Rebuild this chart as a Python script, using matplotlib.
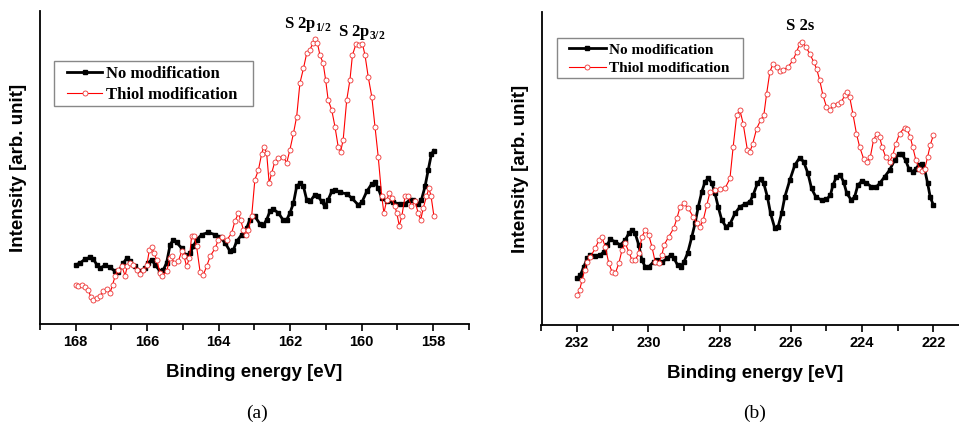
import numpy as np
import matplotlib
matplotlib.use("Agg")
import matplotlib.pyplot as plt
from matplotlib.patches import Rectangle

# S 2p region (left panel)
e_2p_no = [168.00, 167.88, 167.74, 167.60, 167.51, 167.41, 167.32, 167.18, 167.04, 166.90,
           166.81, 166.67, 166.57, 166.48, 166.34, 166.20, 166.06, 165.97, 165.88, 165.78,
           165.64, 165.55, 165.46, 165.36, 165.27, 165.18, 165.04, 164.94, 164.90, 164.80,
           164.71, 164.62, 164.48, 164.29, 164.10, 163.96, 163.82, 163.68, 163.59, 163.50,
           163.36, 163.22, 163.13, 162.99, 162.85, 162.75, 162.66, 162.57, 162.47, 162.33,
           162.19, 162.10, 162.01, 161.91, 161.82, 161.73, 161.63, 161.54, 161.45, 161.31,
           161.22, 161.12, 161.03, 160.94, 160.84, 160.75, 160.61, 160.42, 160.28, 160.10,
           160.00, 159.86, 159.72, 159.63, 159.54, 159.44, 159.30, 159.12, 158.93, 158.79,
           158.65, 158.56, 158.42, 158.33, 158.23, 158.14, 158.05, 157.98]
i_2p_no = [1.80, 1.85, 1.97, 2.02, 1.97, 1.80, 1.70, 1.78, 1.72, 1.60,
           1.57, 1.85, 2.00, 1.90, 1.75, 1.60, 1.70, 1.85, 1.95, 1.80,
           1.60, 1.65, 1.85, 2.40, 2.55, 2.47, 2.30, 2.10, 2.05, 2.15,
           2.35, 2.55, 2.70, 2.77, 2.70, 2.63, 2.45, 2.20, 2.25, 2.50,
           2.70, 2.90, 3.15, 3.25, 3.03, 3.00, 3.15, 3.40, 3.47, 3.35,
           3.13, 3.15, 3.35, 3.65, 4.15, 4.25, 4.15, 3.75, 3.70, 3.90,
           3.85, 3.70, 3.55, 3.75, 4.00, 4.05, 3.97, 3.93, 3.80, 3.60,
           3.67, 4.00, 4.23, 4.27, 4.10, 3.80, 3.70, 3.67, 3.63, 3.63,
           3.75, 3.73, 3.63, 3.75, 4.15, 4.65, 5.13, 5.23]

e_2p_thiol = [168.00, 167.93, 167.83, 167.74, 167.65, 167.58, 167.51, 167.41, 167.32, 167.23,
              167.13, 167.04, 166.97, 166.90, 166.81, 166.71, 166.62, 166.56, 166.48, 166.39,
              166.29, 166.20, 166.11, 166.01, 165.94, 165.88, 165.81, 165.74, 165.64, 165.58,
              165.46, 165.36, 165.32, 165.25, 165.13, 165.04, 164.97, 164.90, 164.82, 164.76,
              164.69, 164.62, 164.52, 164.43, 164.34, 164.24, 164.10, 164.01, 163.92, 163.78,
              163.64, 163.55, 163.45, 163.39, 163.31, 163.24, 163.17, 163.08, 162.99, 162.89,
              162.80, 162.74, 162.66, 162.59, 162.52, 162.43, 162.33, 162.19, 162.10, 162.01,
              161.91, 161.82, 161.73, 161.63, 161.54, 161.45, 161.37, 161.30, 161.24, 161.17,
              161.08, 161.01, 160.94, 160.84, 160.75, 160.66, 160.59, 160.52, 160.42, 160.33,
              160.26, 160.16, 160.07, 159.98, 159.91, 159.82, 159.72, 159.63, 159.54, 159.44,
              159.38, 159.30, 159.23, 159.16, 159.07, 159.02, 158.95, 158.88, 158.79, 158.70,
              158.61, 158.51, 158.42, 158.35, 158.28, 158.19, 158.12, 158.06, 157.98]
i_2p_thiol = [1.20, 1.17, 1.20, 1.13, 1.05, 0.83, 0.75, 0.80, 0.87, 1.00,
              1.07, 0.95, 1.20, 1.45, 1.65, 1.75, 1.47, 1.75, 1.85, 1.80,
              1.63, 1.53, 1.63, 1.80, 2.25, 2.33, 2.15, 1.95, 1.55, 1.45,
              1.60, 2.00, 2.05, 1.85, 1.90, 2.20, 2.05, 1.75, 2.00, 2.65,
              2.67, 2.35, 1.57, 1.50, 1.75, 2.05, 2.30, 2.55, 2.63, 2.53,
              2.75, 3.10, 3.35, 3.15, 2.85, 2.70, 2.85, 3.25, 4.35, 4.65,
              5.13, 5.35, 5.15, 4.25, 4.55, 4.90, 5.00, 5.05, 4.85, 5.25,
              5.75, 6.25, 7.25, 7.70, 8.15, 8.25, 8.45, 8.57, 8.45, 8.10,
              7.85, 7.35, 6.75, 6.45, 5.95, 5.35, 5.20, 5.55, 6.75, 7.35,
              8.10, 8.43, 8.40, 8.43, 8.10, 7.45, 6.85, 5.95, 5.05, 3.85,
              3.35, 3.75, 3.95, 3.80, 3.55, 3.35, 2.97, 3.25, 3.85, 3.85,
              3.55, 3.70, 3.35, 3.15, 3.50, 3.85, 4.10, 3.85, 3.25]

# S 2s region (right panel)
e_2s_no = [232.00, 231.91, 231.81, 231.72, 231.63, 231.49, 231.35, 231.25, 231.16, 231.07,
           230.93, 230.79, 230.65, 230.55, 230.46, 230.37, 230.27, 230.18, 230.09, 229.99,
           229.85, 229.76, 229.62, 229.48, 229.37, 229.28, 229.18, 229.09, 229.00, 228.90,
           228.78, 228.69, 228.60, 228.50, 228.41, 228.32, 228.22, 228.13, 228.04, 227.94,
           227.82, 227.71, 227.57, 227.43, 227.29, 227.15, 227.06, 226.94, 226.85, 226.76,
           226.66, 226.57, 226.45, 226.36, 226.26, 226.17, 226.03, 225.89, 225.75, 225.64,
           225.52, 225.42, 225.30, 225.14, 225.00, 224.89, 224.82, 224.72, 224.61, 224.52,
           224.43, 224.30, 224.21, 224.12, 224.00, 223.88, 223.74, 223.62, 223.51, 223.37,
           223.23, 223.09, 222.97, 222.88, 222.78, 222.69, 222.58, 222.49, 222.41, 222.32,
           222.25, 222.16, 222.09, 222.00]
i_2s_no = [1.40, 1.50, 1.75, 2.00, 2.10, 2.07, 2.10, 2.20, 2.40, 2.57,
           2.50, 2.40, 2.55, 2.75, 2.85, 2.75, 2.40, 1.95, 1.75, 1.75,
           1.90, 1.95, 1.88, 2.00, 2.10, 2.00, 1.80, 1.75, 1.90, 2.15,
           2.65, 3.05, 3.55, 4.00, 4.30, 4.40, 4.27, 3.95, 3.55, 3.15,
           2.95, 3.03, 3.35, 3.55, 3.63, 3.70, 3.90, 4.25, 4.37, 4.25,
           3.85, 3.35, 2.90, 2.95, 3.35, 3.85, 4.35, 4.80, 5.03, 4.90,
           4.55, 4.10, 3.85, 3.75, 3.77, 3.90, 4.20, 4.45, 4.50, 4.30,
           3.95, 3.75, 3.85, 4.20, 4.33, 4.27, 4.15, 4.13, 4.25, 4.45,
           4.65, 4.95, 5.15, 5.13, 4.95, 4.70, 4.60, 4.70, 4.80, 4.85,
           4.70, 4.25, 3.85, 3.60]

e_2s_thiol = [232.00, 231.93, 231.86, 231.79, 231.72, 231.63, 231.49, 231.39, 231.30, 231.21,
              231.11, 231.02, 230.93, 230.83, 230.74, 230.65, 230.55, 230.46, 230.37, 230.27,
              230.18, 230.09, 229.99, 229.90, 229.81, 229.71, 229.62, 229.56, 229.43, 229.29,
              229.20, 229.11, 229.01, 228.88, 228.74, 228.64, 228.55, 228.46, 228.36, 228.27,
              228.13, 227.99, 227.85, 227.71, 227.62, 227.52, 227.43, 227.34, 227.22, 227.15,
              227.07, 226.96, 226.85, 226.76, 226.68, 226.59, 226.50, 226.40, 226.31, 226.22,
              226.08, 225.94, 225.84, 225.75, 225.68, 225.58, 225.47, 225.36, 225.28, 225.19,
              225.10, 225.00, 224.91, 224.82, 224.68, 224.58, 224.49, 224.43, 224.35, 224.26,
              224.16, 224.07, 223.96, 223.87, 223.77, 223.68, 223.59, 223.51, 223.44, 223.34,
              223.23, 223.14, 223.05, 222.95, 222.81, 222.75, 222.65, 222.58, 222.49, 222.39,
              222.32, 222.24, 222.16, 222.09, 222.00]
i_2s_thiol = [0.90, 1.05, 1.35, 1.65, 1.90, 2.05, 2.30, 2.55, 2.63, 2.35,
              1.85, 1.60, 1.55, 1.85, 2.25, 2.45, 2.20, 1.95, 1.95, 2.15,
              2.65, 2.85, 2.70, 2.35, 1.90, 1.85, 2.10, 2.40, 2.65, 2.90,
              3.20, 3.55, 3.65, 3.50, 3.25, 3.07, 2.95, 3.15, 3.60, 4.00,
              4.05, 4.07, 4.10, 4.40, 5.35, 6.30, 6.45, 6.05, 5.25, 5.20,
              5.45, 5.90, 6.15, 6.30, 6.95, 7.60, 7.85, 7.75, 7.62, 7.65,
              7.75, 7.95, 8.20, 8.45, 8.50, 8.35, 8.15, 7.90, 7.70, 7.35,
              6.90, 6.55, 6.45, 6.60, 6.65, 6.70, 6.90, 7.00, 6.85, 6.35,
              5.75, 5.35, 5.00, 4.90, 5.05, 5.55, 5.75, 5.65, 5.35, 5.05,
              4.90, 5.10, 5.45, 5.75, 5.93, 5.90, 5.65, 5.35, 4.95, 4.70,
              4.63, 4.70, 5.05, 5.40, 5.70]

labels = ["No modification", "Thiol modification"]

W, H = 959, 426
fig = plt.figure(figsize=(W / 100, H / 100), dpi=100)

sans = ["Liberation Sans", "DejaVu Sans"]
serif = ["Liberation Serif", "DejaVu Serif"]
plt.rcParams["mathtext.fontset"] = "custom"
plt.rcParams["mathtext.bf"] = "Liberation Serif:bold"
plt.rcParams["mathtext.rm"] = "Liberation Serif:bold"


def px_box(x0, y0, x1, y1):
    # grey legend frame, given in figure pixels from top-left
    r = Rectangle((x0 / W, 1 - y1 / H), (x1 - x0) / W, (y1 - y0) / H,
                  transform=fig.transFigure, fill=False, ec="#888888", lw=1.0)
    fig.add_artist(r)


def make_ax(rect, e_no, i_no, e_th, i_th, xlim, ylim, xticks, legend_xy, legend_fs, hlen):
    ax = fig.add_axes(rect)
    ax.plot(e_no, i_no, color="black", lw=2.0, marker="s", ms=3.0,
            label=labels[0])
    ax.plot(e_th, i_th, color="red", lw=0.8, marker="o", ms=3.6,
            mfc="white", mec="#ee3333", mew=0.6, label=labels[1])
    ax.set_xlim(*xlim)
    ax.set_ylim(*ylim)
    ax.set_xticks(xticks)
    ax.set_xticks(np.arange(min(xlim), max(xlim) + 1, 1), minor=True)
    ax.set_yticks([])
    for s in ["top", "right"]:
        ax.spines[s].set_visible(False)
    ax.spines["left"].set_linewidth(1.3)
    ax.spines["bottom"].set_linewidth(1.3)
    ax.tick_params(axis="x", which="major", direction="out", length=5, width=1.2, pad=3)
    ax.tick_params(axis="x", which="minor", direction="out", length=4, width=1.2)
    for t in ax.get_xticklabels():
        t.set_fontfamily(sans)
        t.set_fontweight("bold")
        t.set_fontsize(10.5)
    ax.set_xlabel("Binding energy [eV]", family=sans, weight="bold", fontsize=13.5, labelpad=11)
    ax.set_ylabel("Intensity [arb. unit]", family=sans, weight="bold", fontsize=13.5, labelpad=9)
    ax.legend(loc="upper left", bbox_to_anchor=legend_xy, bbox_transform=fig.transFigure,
              borderaxespad=0, borderpad=0, frameon=False, numpoints=1,
              handlelength=hlen, handletextpad=0.25, labelspacing=0.3,
              prop={"family": serif, "weight": "bold", "size": legend_fs})
    return ax


ax1 = make_ax([40 / W, 1 - 324 / H, 429 / W, 313 / H],
              e_2p_no, i_2p_no, e_2p_thiol, i_2p_thiol,
              (169, 157), (0.02, 9.42), [168, 166, 164, 162, 160, 158],
              (67 / W, 1 - 66 / H), 12, 2.1)
ax2 = make_ax([541.5 / W, 1 - 325 / H, 427.5 / W, 313 / H],
              e_2s_no, i_2s_no, e_2s_thiol, i_2s_thiol,
              (233, 221), (0.0, 9.4), [232, 230, 228, 226, 224, 222],
              (569 / W, 1 - 43 / H), 11, 2.4)
px_box(54, 61, 253, 106)
px_box(557, 38, 743, 78)

ax1.text(161.5, 9.0, r"S 2p$_{1/2}$", ha="center", va="center",
         family=serif, weight="bold", fontsize=12)
ax1.text(160.0, 8.78, r"S 2p$_{3/2}$", ha="center", va="center",
         family=serif, weight="bold", fontsize=12)
ax2.text(225.75, 8.97, "S 2s", ha="center", va="center",
         family=serif, weight="bold", fontsize=12)

fig.text(257 / W, 1 - 413 / H, "(a)", ha="center", va="center", family=serif, fontsize=14)
fig.text(755 / W, 1 - 413 / H, "(b)", ha="center", va="center", family=serif, fontsize=14)

fig.savefig("out.png", dpi=100)
